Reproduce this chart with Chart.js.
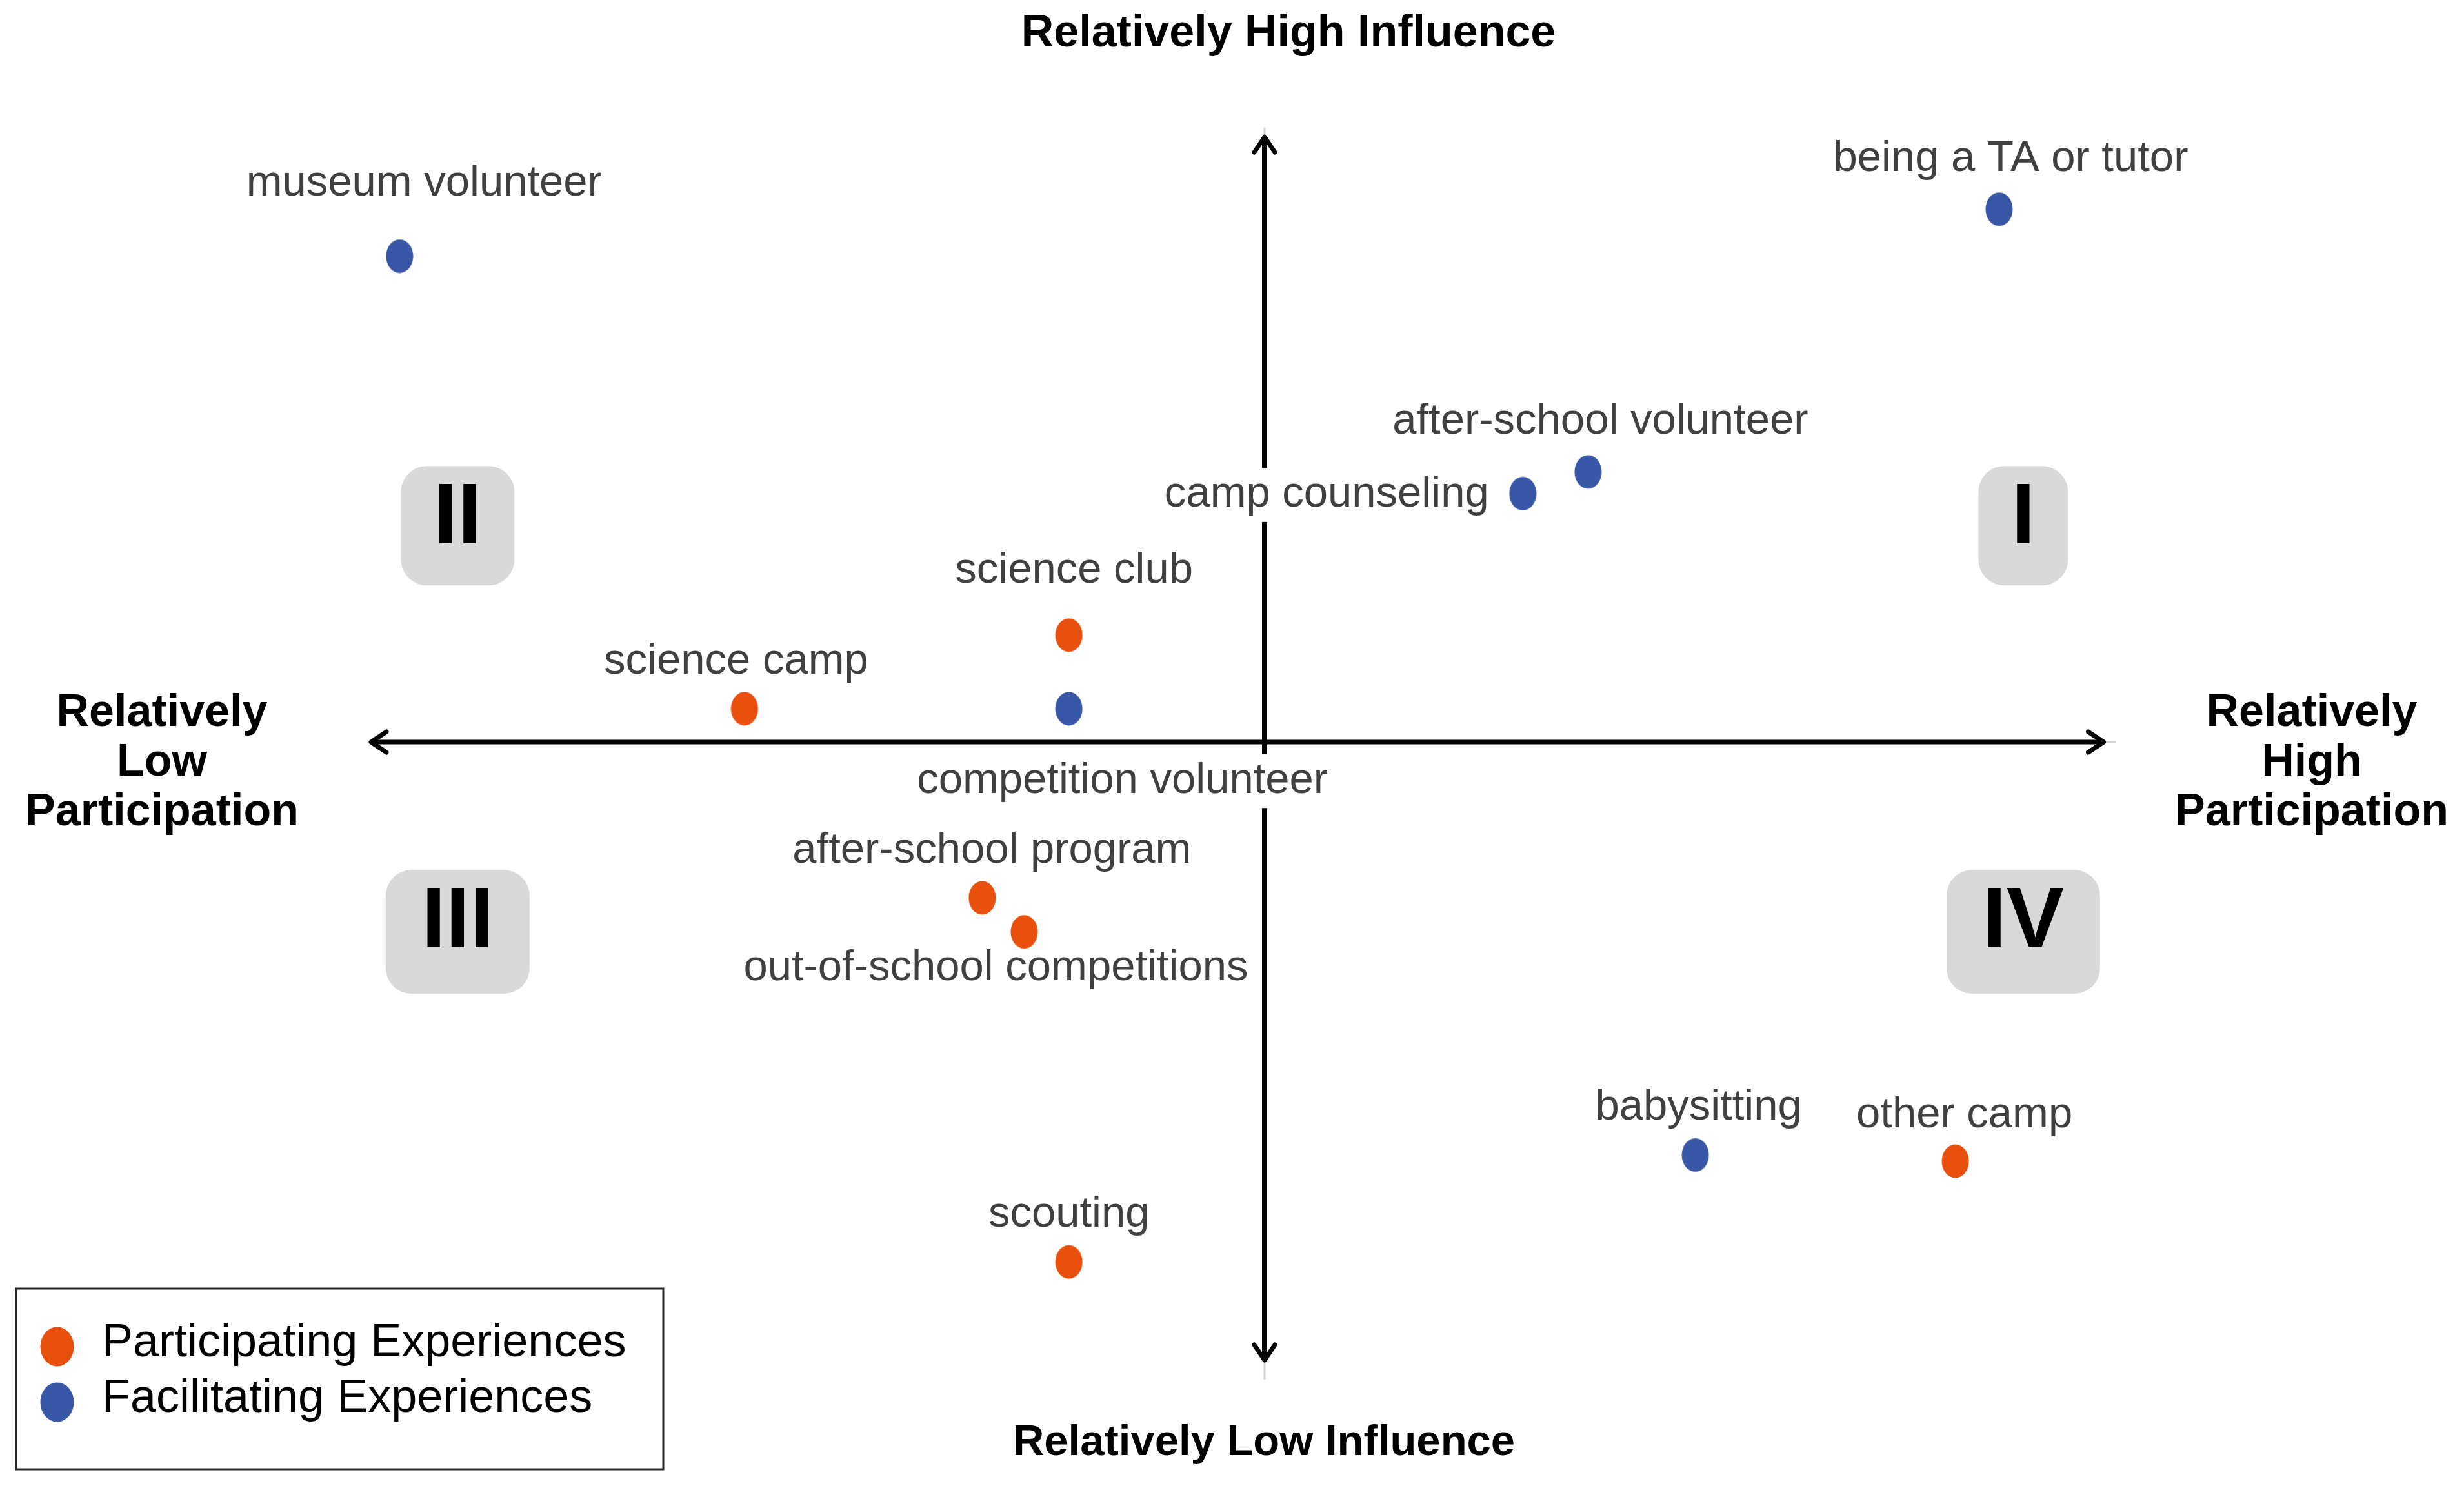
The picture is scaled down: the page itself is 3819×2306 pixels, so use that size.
<!DOCTYPE html>
<html>
<head>
<meta charset="utf-8">
<script src="https://cdn.jsdelivr.net/npm/chart.js@4.4.0/dist/chart.umd.min.js"></script>
<style>
  html, body { margin: 0; padding: 0; background: #fff; }
</style>
</head>
<body>
<canvas id="quadChart" width="3819" height="2306"></canvas>
<script>
// participation (x) vs influence (y), centred on 0
const participatingNames = ['science club', 'science camp', 'after-school program', 'out-of-school competitions', 'other camp', 'scouting'];
const participatingX = [-2.19, -5.82, -3.16, -2.69, 7.73, -2.19];
const participatingY = [1.73, 0.54, -2.52, -3.07, -6.78, -8.41];

const facilitatingNames = ['museum volunteer', 'being a TA or tutor', 'after-school volunteer', 'camp counseling', 'competition volunteer', 'babysitting'];
const facilitatingX = [-9.68, 8.22, 3.62, 2.89, -2.19, 4.82];
const facilitatingY = [7.86, 8.62, 4.37, 4.02, 0.54, -6.68];

const seriesNames = ['Participating Experiences', 'Facilitating Experiences'];
const quadrantNames = ['I', 'II', 'III', 'IV'];

// label placement relative to its dot (pixels), kept apart from the data
const participatingLabelOffsets = [[8, -100], [-13, -73], [15, -73], [-44, 56], [14, -71], [0, -73]];
const facilitatingLabelOffsets = [[38, -112], [18, -78], [19, -78], [-304, 2], [83, 112], [5, -73]];

const orange = '#E9500E';
const blue = '#3957A7';
const FONT = '"Liberation Sans", Arial, sans-serif';

function makeDot(color, w, h) {
    const c = document.createElement('canvas');
    c.width = w; c.height = h;
    const g = c.getContext('2d');
    g.fillStyle = color;
    g.beginPath();
    g.ellipse(w / 2, h / 2, w / 2 - 0.5, h / 2 - 0.5, 0, 0, Math.PI * 2);
    g.fill();
    return c;
}

const orangeDot = makeDot(orange, 43, 53);
const blueDot = makeDot(blue, 43, 53);
const orangeLegendDot = makeDot(orange, 53, 62);
const blueLegendDot = makeDot(blue, 53, 62);

function toPoints(xs, ys) {
    return xs.map((x, i) => ({ x: x, y: ys[i] }));
}

// quadrant badges: anchor in data units, size in px
const badges = [
    { text: quadrantNames[0], x: 8.49, y: 3.50, w: 139, h: 185 },
    { text: quadrantNames[1], x: -9.03, y: 3.50, w: 176, h: 185 },
    { text: quadrantNames[2], x: -9.03, y: -3.07, w: 223, h: 192 },
    { text: quadrantNames[3], x: 8.49, y: -3.07, w: 238, h: 192 }
];

function chevron(ctx, tx, ty, dir) {
    const L = 24, H = 16;
    ctx.beginPath();
    if (dir === 'r') { ctx.moveTo(tx - L, ty - H); ctx.lineTo(tx, ty); ctx.lineTo(tx - L, ty + H); }
    if (dir === 'l') { ctx.moveTo(tx + L, ty - H); ctx.lineTo(tx, ty); ctx.lineTo(tx + L, ty + H); }
    if (dir === 'u') { ctx.moveTo(tx - H, ty + L); ctx.lineTo(tx, ty); ctx.lineTo(tx + H, ty + L); }
    if (dir === 'd') { ctx.moveTo(tx - H, ty - L); ctx.lineTo(tx, ty); ctx.lineTo(tx + H, ty - L); }
    ctx.stroke();
}

const decor = {
    id: 'decor',
    beforeDatasetsDraw(chart) {
        const ctx = chart.ctx;
        const xs = chart.scales.x, ys = chart.scales.y;
        const cx = xs.getPixelForValue(0), cy = ys.getPixelForValue(0);
        ctx.save();

        // faint axis lines under the arrows
        ctx.strokeStyle = '#d4d4d4';
        ctx.lineWidth = 3;
        ctx.beginPath();
        ctx.moveTo(xs.getPixelForValue(-10), cy); ctx.lineTo(xs.getPixelForValue(9.53), cy);
        ctx.moveTo(cx, ys.getPixelForValue(9.94)); ctx.lineTo(cx, ys.getPixelForValue(-10.31));
        ctx.stroke();

        // arrows
        ctx.strokeStyle = '#000';
        ctx.lineCap = 'round';
        ctx.lineJoin = 'round';
        ctx.lineWidth = 7;
        const x0 = xs.getPixelForValue(-10), x1 = xs.getPixelForValue(9.39);
        const y0 = ys.getPixelForValue(9.79), y1 = ys.getPixelForValue(-10);
        ctx.beginPath(); ctx.moveTo(x0 + 3, cy); ctx.lineTo(x1 - 3, cy); ctx.stroke();
        chevron(ctx, x0, cy, 'l'); chevron(ctx, x1, cy, 'r');
        ctx.lineWidth = 8;
        ctx.beginPath(); ctx.moveTo(cx, y0 + 3); ctx.lineTo(cx, y1 - 3); ctx.stroke();
        ctx.lineWidth = 7;
        chevron(ctx, cx, y0, 'u'); chevron(ctx, cx, y1, 'd');

        // quadrant badges
        badges.forEach(b => {
            const bx = xs.getPixelForValue(b.x), by = ys.getPixelForValue(b.y);
            ctx.fillStyle = '#d9d9d9';
            ctx.beginPath();
            ctx.roundRect(bx - b.w / 2, by - b.h / 2, b.w, b.h, 40);
            ctx.fill();
            ctx.fillStyle = '#000';
            ctx.font = 'bold 134px ' + FONT;
            ctx.textAlign = 'center';
            ctx.textBaseline = 'alphabetic';
            ctx.fillText(b.text, bx, by - b.h / 2 + 120);
        });

        // point labels sit on white boxes that mask the axis lines
        const allNames = [participatingNames, facilitatingNames];
        const allOffsets = [participatingLabelOffsets, facilitatingLabelOffsets];
        ctx.font = '67px ' + FONT;
        ctx.textAlign = 'center';
        ctx.textBaseline = 'middle';
        chart.data.datasets.forEach((ds, d) => {
            chart.getDatasetMeta(d).data.forEach((pt, i) => {
                const off = allOffsets[d][i];
                const name = allNames[d][i];
                const tx = pt.x + off[0], ty = pt.y + off[1];
                const w = ctx.measureText(name).width;
                ctx.fillStyle = '#fff';
                ctx.fillRect(tx - w / 2 - 6, ty - 42, w + 12, 84);
                ctx.fillStyle = '#404040';
                ctx.fillText(name, tx, ty);
            });
        });
        ctx.restore();
    },
    afterDatasetsDraw(chart) {
        const ctx = chart.ctx;
        ctx.save();
        ctx.textAlign = 'center';
        ctx.textBaseline = 'middle';

        // axis titles
        ctx.fillStyle = '#000';
        ctx.font = 'bold 70px ' + FONT;
        ctx.fillText('Relatively High Influence', 1997, 53);
        ctx.font = 'bold 67px ' + FONT;
        ctx.fillText('Relatively Low Influence', 1959, 2237);
        ctx.font = 'bold 70px ' + FONT;
        ['Relatively', 'Low', 'Participation'].forEach((t, i) => ctx.fillText(t, 251, 1106 + i * 77));
        ['Relatively', 'High', 'Participation'].forEach((t, i) => ctx.fillText(t, 3583, 1106 + i * 77));

        // legend box
        ctx.strokeStyle = '#262626';
        ctx.lineWidth = 3;
        ctx.strokeRect(25, 1997, 1003, 280);
        const legendDots = [orangeLegendDot, blueLegendDot];
        ctx.font = '72px ' + FONT;
        ctx.textAlign = 'left';
        seriesNames.forEach((name, i) => {
            const y = 2082 + i * 86;
            ctx.drawImage(legendDots[i], 88 - 26, y - 31 + 5);
            ctx.fillText(name, 158, y);
        });
        ctx.restore();
    }
};

new Chart(document.getElementById('quadChart'), {
    type: 'scatter',
    data: {
        datasets: [
            {
                label: seriesNames[0],
                data: toPoints(participatingX, participatingY),
                pointStyle: orangeDot,
                backgroundColor: orange
            },
            {
                label: seriesNames[1],
                data: toPoints(facilitatingX, facilitatingY),
                pointStyle: blueDot,
                backgroundColor: blue
            }
        ]
    },
    options: {
        responsive: false,
        devicePixelRatio: 1,
        animation: false,
        layout: {
            autoPadding: false,
            padding: { left: 575, right: 474, top: 192, bottom: 198 }
        },
        scales: {
            x: { display: false, min: -10, max: 10 },
            y: { display: false, min: -10, max: 10 }
        },
        plugins: {
            legend: { display: false },
            tooltip: { enabled: false }
        }
    },
    plugins: [decor]
});
</script>
</body>
</html>
